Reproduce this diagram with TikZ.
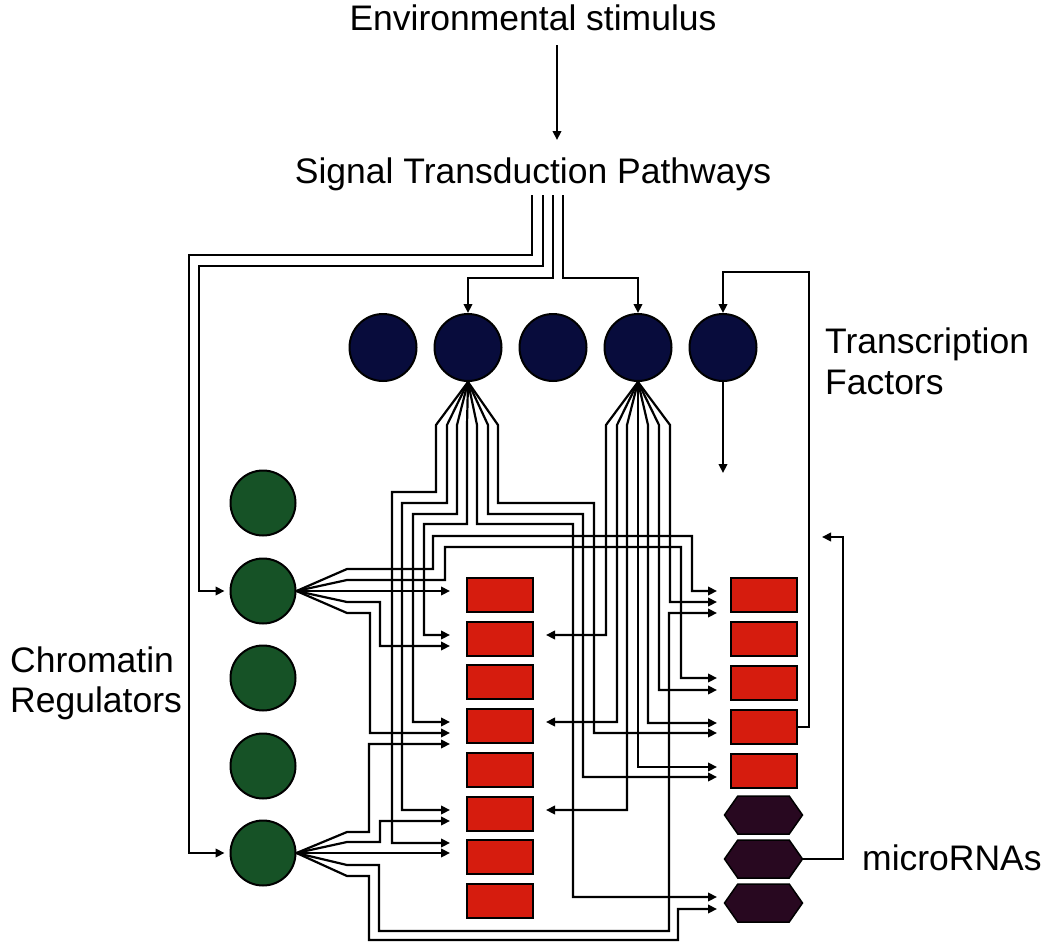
\documentclass[tikz,border=0pt]{standalone}
\usepackage{fontspec}
\setmainfont{Liberation Sans}
\usetikzlibrary{arrows.meta,shapes.symbols}
\definecolor{tfblue}{RGB}{8,12,60}
\definecolor{crgreen}{RGB}{22,82,38}
\definecolor{boxred}{RGB}{214,28,14}
\definecolor{mirna}{RGB}{40,8,32}
\begin{document}
\begin{tikzpicture}[x=1pt,y=-1pt,
  wire/.style={line width=2.2pt, line join=miter},
  arr/.style={wire,-{Triangle[length=9pt,width=8.5pt]}},
  tf/.style={circle, fill=tfblue, draw=black, line width=2pt, minimum size=67pt, inner sep=0pt},
  cr/.style={circle, fill=crgreen, draw=black, line width=2pt, minimum size=65pt, inner sep=0pt},
  gene/.style={rectangle, fill=boxred, draw=black, line width=2pt, minimum width=66pt, minimum height=34pt, inner sep=0pt},
  mir/.style={signal, signal to=east and west, signal pointer angle=110, fill=mirna, draw=black, line width=1.5pt, minimum width=78pt, minimum height=38pt, inner sep=0pt},
  lbl/.style={font=\fontsize{35.5}{41}\selectfont, inner sep=0pt}]
\useasboundingbox (0,0) rectangle (1045,945);
% labels
\node[lbl, anchor=base] (env) at (533,30) {Environmental stimulus};
\node[lbl, anchor=base] (sig) at (533,183) {Signal Transduction Pathways};
\node[lbl, anchor=base west] (tfa) at (825,353) {Transcription};
\node[lbl, anchor=base west] (tfb) at (825,394) {Factors};
\node[lbl, anchor=base west] (cra) at (10,672) {Chromatin};
\node[lbl, anchor=base west] (crb) at (10,712) {Regulators};
\node[lbl, anchor=base west] (mil) at (862,870) {microRNAs};
% transcription factors
\foreach \i/\x in {1/383,2/468,3/553,4/638,5/723} \node[tf] (b\i) at (\x,347.5) {};
% chromatin regulators
\foreach \i/\y in {1/503,2/591,3/678,4/766,5/853} \node[cr] (g\i) at (263,\y) {};
% genes middle
\foreach \i/\y in {1/595,2/638.7,3/682.4,4/726.1,5/769.8,6/813.5,7/857.2,8/900.9} \node[gene] (m\i) at (500,\y) {};
% genes right
\foreach \i/\y in {1/595,2/639,3/683,4/727,5/771} \node[gene] (r\i) at (764,\y) {};
% microRNAs
\foreach \i/\y in {1/815,2/859,3/903} \node[mir] (h\i) at (763.5,\y) {};
% stimulus
\draw[arr] (557,45) -- (557,140);
% signal transduction lines
\draw[arr] (532,195) |- (189,255) |- ([xshift=-5pt]g5.west);
\draw[arr] (543,195) |- (199,266) |- ([xshift=-5pt]g2.west);
\draw[arr] (553,195) |- (468,278) -- (b2.north);
\draw[arr] (563,195) |- (638,278) -- (b4.north);
% feedback loops
\draw[arr] (r4.east) -| (809,272) -| (b5.north);
\draw[arr] (b5.south) -- (723,473);
\draw[arr] (h2.east) -| (843,537) -- (822,537);
% TF 2 targets
\draw[arr] (b2.south) -- (436,425) |- (392,492) |- (450,843);
\draw[arr] (b2.south) -- (447,425) |- (402,503) |- (450,810);
\draw[arr] (b2.south) -- (457,425) |- (413,514) |- (450,722);
\draw[arr] (b2.south) -- (467,425) |- (424,524) |- (450,635);
\draw[arr] (b2.south) -- (477,425) |- (573,524) |- (717,897);
\draw[arr] (b2.south) -- (488,425) |- (583,514) |- (717,777);
\draw[arr] (b2.south) -- (498,425) |- (594,503) |- (717,733);
% TF 4 targets
\draw[arr] (b4.south) -- (606,425) |- (546,635);
\draw[arr] (b4.south) -- (617,425) |- (546,722);
\draw[arr] (b4.south) -- (627,425) |- (546,810);
\draw[arr] (b4.south) -- (638,425) |- (717,767);
\draw[arr] (b4.south) -- (648,425) |- (717,723);
\draw[arr] (b4.south) -- (659,425) |- (717,690);
\draw[arr] (b4.south) -- (670,425) |- (717,602);
% CR 2 targets
\draw[arr] (g2.east) -- (347,569) -| (433,536) -| (692,591) -- (717,591);
\draw[arr] (g2.east) -- (347,580) -| (445,547) -| (681,678) -- (717,678);
\draw[arr] (g2.east) -- (347,591) -- (450,591);
\draw[arr] (g2.east) -- (347,602) -| (380,646) -- (450,646);
\draw[arr] (g2.east) -- (347,613) -| (370,733) -- (450,733);
% CR 5 targets
\draw[arr] (g5.east) -- (347,832) -| (369,744) -- (450,744);
\draw[arr] (g5.east) -- (347,842) -| (380,821) -- (450,821);
\draw[arr] (g5.east) -- (347,853) -- (450,853);
\draw[arr] (g5.east) -- (347,865) -| (379,931) -| (669,613) -- (717,613);
\draw[arr] (g5.east) -- (347,876) -| (369,940) -| (678,909) -- (717,909);
\end{tikzpicture}
\end{document}
